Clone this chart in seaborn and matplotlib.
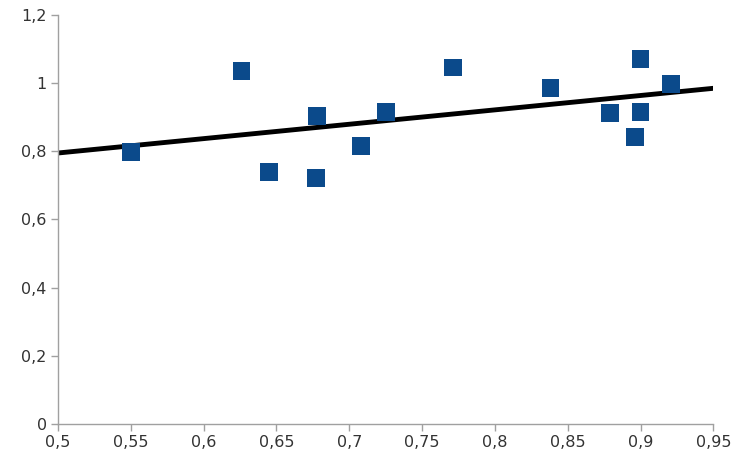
import numpy as np
import pandas as pd
import matplotlib
matplotlib.use("Agg")
import matplotlib.pyplot as plt
import seaborn as sns
from matplotlib.ticker import FuncFormatter, MultipleLocator

x_vals = [0.550, 0.626, 0.645, 0.677, 0.678, 0.708, 0.725, 0.771, 0.838, 0.879, 0.896, 0.900, 0.900, 0.921]
y_vals = [0.798, 1.035, 0.740, 0.722, 0.904, 0.815, 0.915, 1.046, 0.985, 0.912, 0.842, 0.915, 1.070, 0.997]

df = pd.DataFrame({"x": x_vals, "y": y_vals})

sns.set_style("white")
fig = plt.figure(figsize=(7.34, 4.74), dpi=100)
ax = fig.add_axes([0.079, 0.1055, 0.893, 0.863])
ax.set_xlim(0.5, 0.95)
ax.set_ylim(0, 1.2)

sns.regplot(data=df, x="x", y="y", ax=ax, ci=None, truncate=False,
            marker="s",
            scatter_kws=dict(s=160, color="#0b4a8b", edgecolor="none", alpha=1, zorder=3),
            line_kws=dict(color="black", lw=3.5, zorder=2))
ax.set_xlim(0.5, 0.95)
ax.set_ylim(0, 1.2)

ax.xaxis.set_major_locator(MultipleLocator(0.05))
ax.yaxis.set_major_locator(MultipleLocator(0.2))
fmt = FuncFormatter(lambda v, p: ("%g" % round(v, 3)).replace(".", ","))
ax.xaxis.set_major_formatter(fmt)
ax.yaxis.set_major_formatter(fmt)

for s in ["top", "right"]:
    ax.spines[s].set_visible(False)
for s in ["left", "bottom"]:
    ax.spines[s].set_color("#a0a0a0")
    ax.spines[s].set_linewidth(1)
ax.tick_params(axis="both", which="major", direction="out", length=5, width=1,
               color="#a0a0a0", labelsize=11.5, labelcolor="#333333", pad=3,
               left=True, bottom=True)
ax.set_xlabel("")
ax.set_ylabel("")

fig.savefig("out.png", dpi=100)
